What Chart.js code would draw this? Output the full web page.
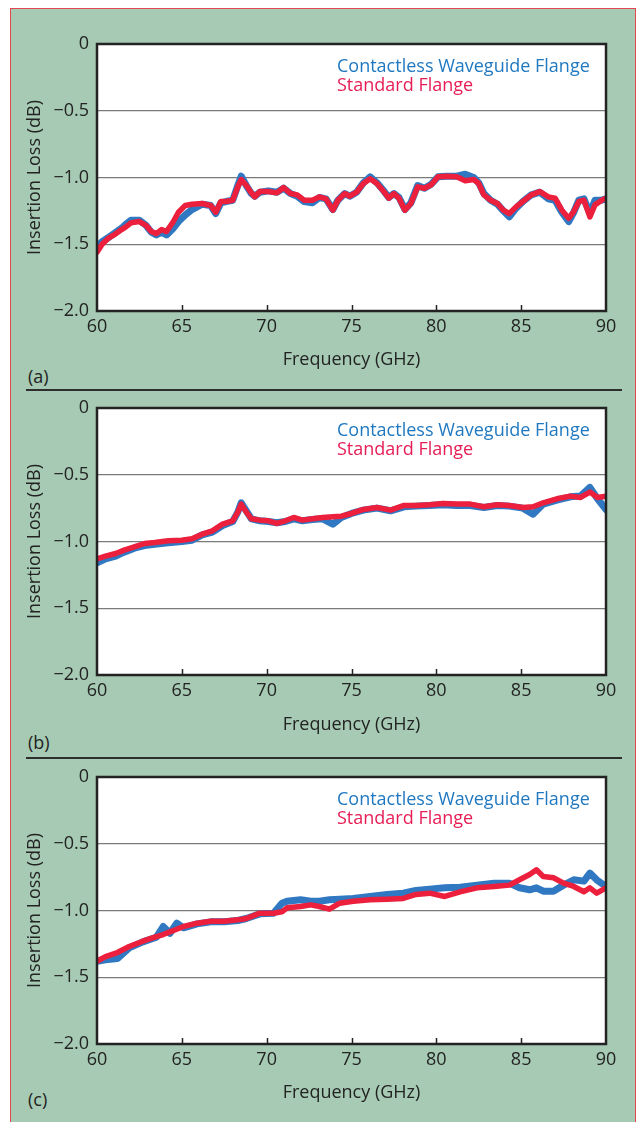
<!DOCTYPE html>
<html>
<head>
<meta charset="utf-8">
<script src="https://cdn.jsdelivr.net/npm/chart.js@4.4.0/dist/chart.umd.min.js"></script>
<style>
  body { margin: 0; background: #fff; width: 639px; height: 1122px; overflow: hidden; position: relative; font-family: "Open Sans", sans-serif; }
  #frame { position: absolute; left: 10px; top: 8px; width: 624px; height: 1120px; background: #a6cab3; border: 1.5px solid #e2484f; }
  .sep { position: absolute; left: 26px; width: 596px; height: 1.5px; background: #2e2e2e; }
  .tag { position: absolute; left: 28px; font-size: 18px; color: #222; line-height: 20px; }
  canvas { position: absolute; left: 0; }
</style>
</head>
<body>
<div id="frame"></div>
<div class="sep" style="top:389px"></div>
<div class="sep" style="top:757px"></div>
<div class="tag" style="top:366px">(a)</div>
<div class="tag" style="top:732px">(b)</div>
<div class="tag" style="top:1089px">(c)</div>
<canvas id="chartA" width="639" height="348" style="top:23px"></canvas>
<canvas id="chartB" width="639" height="349" style="top:387px"></canvas>
<canvas id="chartC" width="639" height="348" style="top:756px"></canvas>
<script>
// series names
const seriesNames = ['Contactless Waveguide Flange', 'Standard Flange'];

// (a)
const freqA = [
  60.0, 60.3, 60.67, 61.0, 61.45, 61.7, 62.0, 62.5, 62.9, 63.2,
  63.5, 63.8, 64.1, 64.5, 64.8, 65.2, 65.6, 66.2, 66.7, 67.0,
  67.3, 67.6, 68.0, 68.3, 68.5, 68.8, 69.1, 69.3, 69.6, 70.1,
  70.6, 71.0, 71.4, 71.8, 72.2, 72.7, 73.1, 73.5, 73.9, 74.2,
  74.6, 74.9, 75.3, 75.7, 76.1, 76.5, 76.9, 77.2, 77.5, 77.8,
  78.15, 78.5, 78.9, 79.3, 79.7, 80.1, 80.6, 81.2, 81.7, 82.2,
  82.5, 82.8, 83.2, 83.6, 83.95, 84.3, 84.7, 85.1, 85.6, 86.1,
  86.6, 87.0, 87.4, 87.8, 88.1, 88.4, 88.7, 89.05, 89.35, 89.75,
  90.0
];
const contactlessA = [
  -1.52, -1.48, -1.45, -1.42, -1.38, -1.35, -1.32, -1.32, -1.36, -1.41,
  -1.43, -1.41, -1.43, -1.38, -1.33, -1.28, -1.24, -1.20, -1.21, -1.27,
  -1.19, -1.18, -1.17, -1.06, -0.99, -1.06, -1.12, -1.14, -1.11, -1.10,
  -1.11, -1.08, -1.12, -1.14, -1.18, -1.19, -1.15, -1.16, -1.24, -1.17,
  -1.12, -1.14, -1.11, -1.04, -0.995, -1.04, -1.10, -1.15, -1.12, -1.15,
  -1.24, -1.19, -1.06, -1.08, -1.05, -0.995, -0.99, -0.99, -0.975, -1.0,
  -1.04, -1.12, -1.17, -1.20, -1.25, -1.295, -1.23, -1.18, -1.13, -1.11,
  -1.16, -1.17, -1.26, -1.33, -1.26, -1.17, -1.16, -1.27, -1.17, -1.17,
  -1.16
];
const standardA = [
  -1.56, -1.50, -1.455, -1.43, -1.39, -1.37, -1.34, -1.33, -1.36, -1.405,
  -1.42, -1.39, -1.405, -1.33, -1.26, -1.21, -1.20, -1.195, -1.21, -1.26,
  -1.18, -1.18, -1.17, -1.07, -1.015, -1.06, -1.115, -1.145, -1.105, -1.105,
  -1.115, -1.075, -1.12, -1.13, -1.17, -1.17, -1.145, -1.16, -1.245, -1.17,
  -1.12, -1.14, -1.11, -1.045, -1.01, -1.045, -1.105, -1.155, -1.12, -1.155,
  -1.245, -1.195, -1.07, -1.08, -1.055, -0.995, -0.99, -0.995, -1.025, -1.015,
  -1.045, -1.13, -1.17, -1.195, -1.245, -1.27, -1.22, -1.18, -1.13, -1.105,
  -1.145, -1.155, -1.245, -1.305, -1.255, -1.18, -1.17, -1.295, -1.205, -1.17,
  -1.155
];

// (b)
const freqB = [
  60.0, 60.5, 61.1, 61.6, 62.2, 62.8, 63.4, 64.2, 65.0, 65.6,
  66.2, 66.8, 67.4, 68.0, 68.3, 68.5, 68.8, 69.1, 69.6, 70.1,
  70.6, 71.1, 71.6, 72.1, 72.7, 73.3, 73.9, 74.4, 75.0, 75.7,
  76.5, 77.3, 78.1, 78.8, 79.6, 80.4, 81.2, 82.0, 82.8, 83.6,
  84.3, 85.1, 85.7, 86.3, 87.1, 87.9, 88.5, 89.05, 89.5, 90.0
];
const contactlessB = [
  -1.16, -1.13, -1.11, -1.08, -1.05, -1.03, -1.02, -1.01, -1.0, -0.99,
  -0.95, -0.93, -0.88, -0.85, -0.78, -0.71, -0.77, -0.83, -0.845, -0.85,
  -0.86, -0.85, -0.83, -0.845, -0.835, -0.83, -0.87, -0.82, -0.79, -0.765,
  -0.75, -0.77, -0.74, -0.735, -0.73, -0.725, -0.73, -0.73, -0.745, -0.73,
  -0.735, -0.75, -0.795, -0.72, -0.69, -0.665, -0.66, -0.595, -0.68, -0.76
];
const standardB = [
  -1.13, -1.11, -1.09, -1.065, -1.04, -1.015, -1.008, -0.995, -0.99, -0.98,
  -0.945, -0.92, -0.87, -0.845, -0.78, -0.72, -0.78, -0.83, -0.84, -0.845,
  -0.865, -0.845, -0.82, -0.84, -0.83, -0.82, -0.815, -0.81, -0.79, -0.76,
  -0.745, -0.765, -0.73, -0.73, -0.725, -0.715, -0.72, -0.72, -0.74, -0.725,
  -0.73, -0.745, -0.74, -0.71, -0.68, -0.66, -0.67, -0.63, -0.67, -0.66
];

// (c)
const freqC = [
  60.0, 60.5, 61.2, 61.9, 62.7, 63.5, 63.9, 64.3, 64.7, 65.1,
  65.9, 66.7, 67.5, 68.3, 68.8, 69.6, 70.4, 70.9, 71.2, 72.0,
  72.6, 73.1, 73.7, 74.3, 75.1, 76.1, 77.1, 78.05, 78.8, 79.6,
  80.5, 81.4, 82.4, 83.4, 84.3, 84.9, 85.5, 85.9, 86.3, 86.9,
  87.5, 88.1, 88.7, 89.05, 89.45, 90.0
];
const contactlessC = [
  -1.38, -1.37, -1.36, -1.28, -1.235, -1.2, -1.12, -1.17, -1.095, -1.13,
  -1.1, -1.085, -1.085, -1.075, -1.06, -1.025, -1.02, -0.945, -0.93, -0.92,
  -0.93, -0.93, -0.92, -0.915, -0.91, -0.895, -0.88, -0.87, -0.85, -0.84,
  -0.83, -0.825, -0.81, -0.795, -0.795, -0.83, -0.845, -0.83, -0.855, -0.855,
  -0.81, -0.77, -0.78, -0.72, -0.77, -0.82
];
const standardC = [
  -1.38, -1.345, -1.315, -1.27, -1.23, -1.195, -1.18, -1.16, -1.14, -1.12,
  -1.095, -1.08, -1.08, -1.07, -1.06, -1.02, -1.02, -1.01, -0.98, -0.97,
  -0.958, -0.97, -0.99, -0.945, -0.93, -0.92, -0.915, -0.91, -0.88, -0.87,
  -0.895, -0.86, -0.83, -0.82, -0.81, -0.77, -0.73, -0.695, -0.745, -0.755,
  -0.795, -0.82, -0.86, -0.83, -0.87, -0.83
];

const xTicks = [60, 65, 70, 75, 80, 85, 90];
const yTicks = [0, -0.5, -1.0, -1.5, -2.0];

const blueLine = '#3079c2';
const redLine = '#ec1f3d';
const blueText = '#1f78c0';
const redText = '#e61d55';
const inkColor = '#232323';
const fontFamily = '"Open Sans", Lato, sans-serif';

Chart.defaults.font.family = fontFamily;
Chart.defaults.font.size = 18;
Chart.defaults.color = inkColor;

function pts(freq, vals) {
  return freq.map((f, i) => ({ x: f, y: vals[i] }));
}

// white plot area, frame, inside ticks and the two-line key
const plotDecor = {
  id: 'plotDecor',
  beforeDraw(chart) {
    const a = chart.chartArea, c = chart.ctx;
    c.save();
    c.fillStyle = '#fff';
    c.fillRect(a.left, a.top, a.right - a.left, a.bottom - a.top);
    c.restore();
  },
  afterDatasetsDraw(chart) {
    const a = chart.chartArea, c = chart.ctx, xs = chart.scales.x;
    c.save();
    c.strokeStyle = inkColor;
    c.lineWidth = 1.5;
    xTicks.slice(1, -1).forEach(t => {
      const px = Math.round(xs.getPixelForValue(t)) + 0.5;
      c.beginPath();
      c.moveTo(px, a.bottom);
      c.lineTo(px, a.bottom - 6);
      c.stroke();
    });
    c.lineWidth = 2.5;
    c.strokeRect(a.left, a.top, a.right - a.left, a.bottom - a.top);
    c.font = '18px ' + fontFamily;
    c.textBaseline = 'middle';
    c.fillStyle = blueText;
    c.fillText(seriesNames[0], a.left + 240, a.top + 22.5);
    c.fillStyle = redText;
    c.fillText(seriesNames[1], a.left + 240, a.top + 41.5);
    c.restore();
  }
};

function makeChart(id, freq, blueVals, redVals, xAxisHeight) {
  return new Chart(document.getElementById(id), {
    type: 'line',
    data: {
      datasets: [
        { label: seriesNames[0], data: pts(freq, blueVals), borderColor: blueLine, borderWidth: 7, order: 2 },
        { label: seriesNames[1], data: pts(freq, redVals), borderColor: redLine, borderWidth: 5.5, order: 1 }
      ]
    },
    options: {
      responsive: false,
      animation: false,
      events: [],
      elements: { point: { radius: 0 }, line: { tension: 0, borderJoinStyle: 'round', borderCapStyle: 'round' } },
      layout: { padding: { left: 0, right: 33, top: 21, bottom: 0 } },
      plugins: { legend: { display: false }, tooltip: { enabled: false } },
      scales: {
        x: {
          type: 'linear', min: 60, max: 90,
          afterBuildTicks: s => { s.ticks = xTicks.map(v => ({ value: v })); },
          afterFit: s => { s.height = xAxisHeight; },
          grid: { display: false, drawTicks: false },
          border: { display: false },
          ticks: { padding: 5, color: inkColor },
          title: { display: true, text: 'Frequency (GHz)', color: inkColor, padding: { top: 0, bottom: 0 } }
        },
        y: {
          min: -2, max: 0,
          afterBuildTicks: s => { s.ticks = yTicks.map(v => ({ value: v })); },
          afterFit: s => { s.width = 97; },
          grid: { color: '#7a7a7a', lineWidth: 1.2, drawTicks: false },
          border: { display: false },
          ticks: {
            padding: 8, color: inkColor,
            callback: v => v === 0 ? '0' : '\u2212' + Math.abs(v).toFixed(1)
          },
          title: { display: true, text: 'Insertion Loss (dB)', color: inkColor, padding: { top: 24, bottom: 0 } }
        }
      }
    },
    plugins: [plotDecor]
  });
}

makeChart('chartA', freqA, contactlessA, standardA, 60);
makeChart('chartB', freqB, contactlessB, standardB, 61);
makeChart('chartC', freqC, contactlessC, standardC, 60);
</script>
</body>
</html>
